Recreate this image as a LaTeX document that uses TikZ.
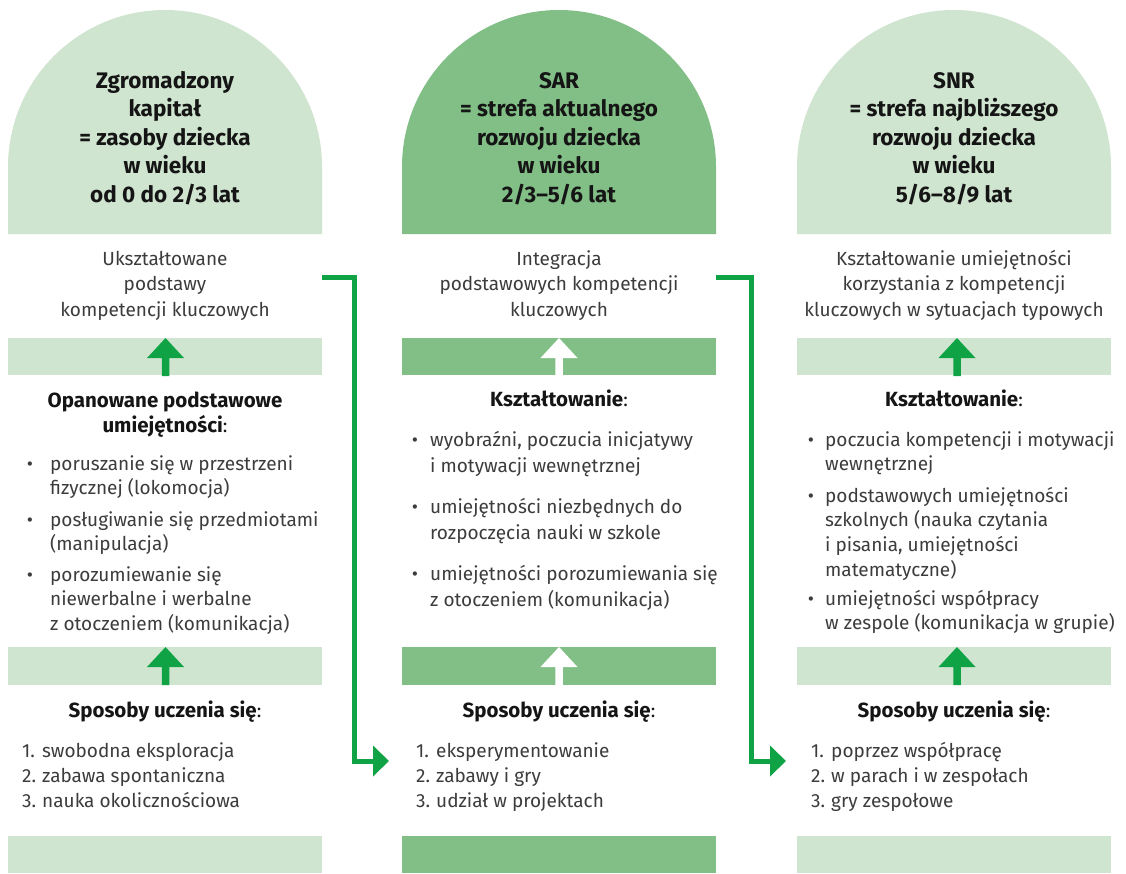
\documentclass[tikz,border=0pt]{standalone}
\usepackage{fontspec}
\setmainfont{Fira Sans}
\usetikzlibrary{arrows.meta}
\definecolor{lightg}{HTML}{D0E5D0}
\definecolor{midg}{HTML}{82BF86}
\definecolor{arrg}{HTML}{10A345}
\definecolor{txt}{HTML}{3C3C3C}
\definecolor{headc}{HTML}{151515}
\tikzset{
  head/.style={font=\fontsize{22.5}{28.5}\selectfont\bfseries, text=headc, align=center, inner sep=0pt, anchor=north},
  body/.style={font=\fontsize{19}{25.5}\selectfont, text=txt, align=center, inner sep=0pt, anchor=north},
  subhead/.style={font=\fontsize{19}{25}\selectfont, text=headc, align=center, inner sep=0pt, anchor=north},
  item/.style={font=\fontsize{19}{#1}\selectfont, text=txt, align=left, inner sep=0pt, anchor=north west},
  item/.default=25,
  bul/.style={font=\fontsize{19}{25}\selectfont, text=txt, inner sep=0pt, anchor=base},
  numlist/.style={font=\fontsize{19}{25}\selectfont, text=txt, inner sep=0pt, anchor=north west},
  conn/.style={draw=arrg, line width=5pt, line join=miter, -{Triangle[length=16pt,width=30pt]}},
}
\newcommand{\bfsub}[1]{{\fontsize{20.5}{25}\selectfont\bfseries #1}}
\newcommand{\domeshape}[2]{% left x, colour
  \fill[#2] (#1,234) -- (#1,167) arc[start angle=180,end angle=360,radius=157] -- ++(0,67) -- cycle;}
\newcommand{\upArrow}[3]{% centre x, top y, colour
  \fill[#3] (#1,#2) -- ++(18.5,20) -- ++(-14.75,0) -- ++(0,18) -- ++(-7.5,0) -- ++(0,-18) -- ++(-14.75,0) -- cycle;}
\begin{document}
\begin{tikzpicture}[x=1pt,y=-1pt]
\useasboundingbox (0,0) rectangle (1126,873);
\fill[white] (0,0) rectangle (1126,873);
% domes
\domeshape{8}{lightg}
\domeshape{402}{midg}
\domeshape{797}{lightg}
% bands
\fill[lightg] (8,338) rectangle (322,375);
\fill[lightg] (8,647) rectangle (322,685);
\fill[lightg] (8,836) rectangle (322,873);
\fill[midg] (402,338) rectangle (716,375);
\fill[midg] (402,647) rectangle (716,685);
\fill[midg] (402,836) rectangle (716,873);
\fill[lightg] (797,338) rectangle (1111,375);
\fill[lightg] (797,647) rectangle (1111,685);
\fill[lightg] (797,836) rectangle (1111,873);
% up arrows
\upArrow{165.5}{338}{arrg}
\upArrow{165.5}{647}{arrg}
\upArrow{559}{338}{white}
\upArrow{559}{647}{white}
\upArrow{957}{338}{arrg}
\upArrow{957}{647}{arrg}
% headings
\node[head] (h1) at (165,68.05) {\strut Zgromadzony\\kapitał\\= zasoby dziecka\\w wieku\\od 0 do 2/3 lat};
\node[head] (h2) at (559,68.05) {\strut SAR\\= strefa aktualnego\\rozwoju dziecka\\w wieku\\2/3–5/6 lat};
\node[head] (h3) at (954,68.05) {\strut SNR\\= strefa najbliższego\\rozwoju dziecka\\w wieku\\5/6–8/9 lat};
% top texts
\node[body] (t1) at (165,247.15) {\strut Ukształtowane\\podstawy\\kompetencji kluczowych};
\node[body] (t2) at (559,247.15) {\strut Integracja\\podstawowych kompetencji\\kluczowych};
\node[body] (t3) at (954,247.15) {\strut Kształtowanie umiejętności\\korzystania z kompetencji\\kluczowych w sytuacjach typowych};
% column 1 middle
\node[subhead] (m1) at (165,389.5) {\strut\bfsub{Opanowane podstawowe}\\\bfsub{umiejętności}:};
\node[bul] (b11) at (30,470) {•};
\node[item=24.5] (i11) at (50,452.85) {\strut poruszanie się w przestrzeni\\fizycznej (lokomocja)};
\node[bul] (b12) at (30,526) {•};
\node[item=24.5] (i12) at (50,508.85) {\strut posługiwanie się przedmiotami\\(manipulacja)};
\node[bul] (b13) at (30,581) {•};
\node[item=24.5] (i13) at (50,563.85) {\strut porozumiewanie się\\niewerbalne i werbalne\\z otoczeniem (komunikacja)};
% column 2 middle
\node[subhead] (m2) at (559,388.5) {\strut\bfsub{Kształtowanie}:};
\node[bul] (b21) at (415,446) {•};
\node[item=26] (i21) at (430,427.8) {\strut wyobraźni, poczucia inicjatywy\\i motywacji wewnętrznej};
\node[bul] (b22) at (415,513) {•};
\node[item=26] (i22) at (430,494.8) {\strut umiejętności niezbędnych do\\rozpoczęcia nauki w szkole};
\node[bul] (b23) at (415,580) {•};
\node[item=26] (i23) at (430,561.8) {\strut umiejętności porozumiewania się\\z otoczeniem (komunikacja)};
% column 3 middle
\node[subhead] (m3) at (954,388.5) {\strut\bfsub{Kształtowanie}:};
\node[bul] (b31) at (811,446) {•};
\node[item=24.7] (i31) at (825,428.7) {\strut poczucia kompetencji i motywacji\\wewnętrznej};
\node[bul] (b32) at (811,502) {•};
\node[item=24.7] (i32) at (825,484.7) {\strut podstawowych umiejętności\\szkolnych (nauka czytania\\i pisania, umiejętności\\matematyczne)};
\node[bul] (b33) at (811,605) {•};
\node[item=24.7] (i33) at (825,587.7) {\strut umiejętności współpracy\\w zespole (komunikacja w grupie)};
% bottom
\node[subhead] (s1) at (165,699.5) {\strut\bfsub{Sposoby uczenia się}:};
\node[subhead] (s2) at (559,699.5) {\strut\bfsub{Sposoby uczenia się}:};
\node[subhead] (s3) at (954,699.5) {\strut\bfsub{Sposoby uczenia się}:};
\node[numlist] (l1) at (22,739.5) {\begin{tabular}[t]{@{}l@{\hspace{6pt}}l@{}}1. & swobodna eksploracja\\2. & zabawa spontaniczna\\3. & nauka okolicznościowa\end{tabular}};
\node[numlist] (l2) at (416,739.5) {\begin{tabular}[t]{@{}l@{\hspace{6pt}}l@{}}1. & eksperymentowanie\\2. & zabawy i gry\\3. & udział w projektach\end{tabular}};
\node[numlist] (l3) at (811,739.5) {\begin{tabular}[t]{@{}l@{\hspace{6pt}}l@{}}1. & poprzez współpracę\\2. & w parach i w zespołach\\3. & gry zespołowe\end{tabular}};
% connectors
\coordinate (c1s) at (322,277.5);
\coordinate (c1e) at (389,761);
\coordinate (c2s) at (716,277.5);
\coordinate (c2e) at (786,761);
\draw[conn] (c1s) -- (354.5,277.5) -- (354.5,761) -- (c1e);
\draw[conn] (c2s) -- (751.5,277.5) -- (751.5,761) -- (c2e);
\end{tikzpicture}
\end{document}
